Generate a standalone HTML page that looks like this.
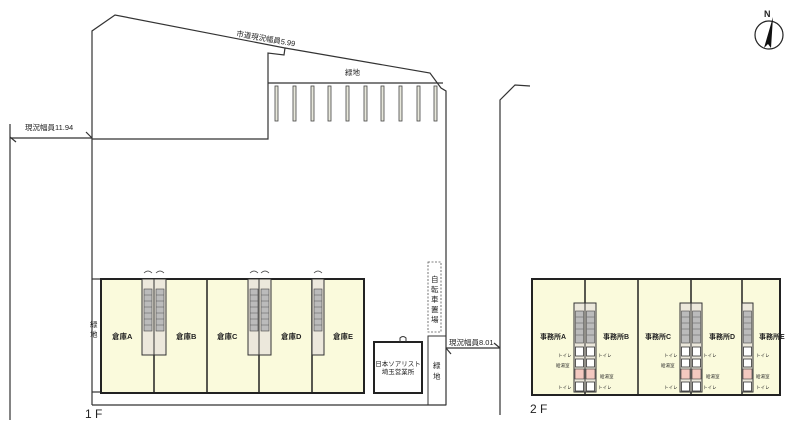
<!DOCTYPE html>
<html><head><meta charset="utf-8"><style>
html,body{margin:0;padding:0;background:#fff;width:800px;height:434px;overflow:hidden}
svg{display:block}
text{font-family:"Liberation Sans","Noto Sans CJK JP",sans-serif;fill:#222}
</style></head><body>
<svg width="800" height="434" viewBox="0 0 800 434" xmlns="http://www.w3.org/2000/svg">
<defs>
<g id="st1">
 <rect x="0" y="0" width="12" height="76" fill="#ece8dc" stroke="#333" stroke-width="1"/>
 <rect x="2" y="10" width="8" height="42" fill="#bbb" stroke="#444" stroke-width="0.6"/>
 <line x1="2" y1="16" x2="10" y2="16" stroke="#555" stroke-width="0.5"/>
 <line x1="2" y1="22" x2="10" y2="22" stroke="#555" stroke-width="0.5"/>
 <line x1="2" y1="28" x2="10" y2="28" stroke="#555" stroke-width="0.5"/>
 <line x1="2" y1="34" x2="10" y2="34" stroke="#555" stroke-width="0.5"/>
 <line x1="2" y1="40" x2="10" y2="40" stroke="#555" stroke-width="0.5"/>
 <line x1="2" y1="46" x2="10" y2="46" stroke="#555" stroke-width="0.5"/>
 <path d="M2,-6 q4,-4 8,0" fill="none" stroke="#444" stroke-width="0.8"/>
</g>
<g id="st2">
 <rect x="0" y="0" width="11" height="89" fill="#ece8dc" stroke="#333" stroke-width="1"/>
 <rect x="1.5" y="8" width="8" height="32" fill="#bbb" stroke="#444" stroke-width="0.6"/>
 <line x1="1.5" y1="14" x2="9.5" y2="14" stroke="#555" stroke-width="0.5"/>
 <line x1="1.5" y1="20" x2="9.5" y2="20" stroke="#555" stroke-width="0.5"/>
 <line x1="1.5" y1="26" x2="9.5" y2="26" stroke="#555" stroke-width="0.5"/>
 <line x1="1.5" y1="32" x2="9.5" y2="32" stroke="#555" stroke-width="0.5"/>
 <rect x="1.5" y="44" width="8" height="9" fill="#fff" stroke="#333" stroke-width="0.8"/>
 <rect x="1.5" y="56" width="8" height="8" fill="#fff" stroke="#333" stroke-width="0.8"/>
 <rect x="1" y="66" width="9" height="10" fill="#f3c9c0" stroke="#333" stroke-width="0.6"/>
 <rect x="1.5" y="79" width="8" height="9" fill="#fff" stroke="#333" stroke-width="0.8"/>
</g>
</defs>
<g fill="none" stroke="#333" stroke-width="1.2">
 <polyline points="92,405 92,31 115,15 285,48 284,55 268,53 268,139 92,139"/>
 <polyline points="285,48 430,73 441,88 446,91 446,405"/>
 <line x1="268" y1="83" x2="443" y2="83"/>
 <line x1="92" y1="405" x2="446" y2="405"/>
 <line x1="10" y1="138" x2="92" y2="138"/>
 <line x1="10" y1="124" x2="10" y2="420"/>
 <line x1="10" y1="137" x2="16" y2="142"/>
 <line x1="86" y1="132" x2="92" y2="138"/>
 <polyline points="500,415 500,100 515,85 530,86"/>
 <line x1="446" y1="348" x2="500" y2="348"/>
 <line x1="446" y1="348" x2="451" y2="354"/>
 <line x1="494" y1="343" x2="500" y2="348"/>
 <line x1="92" y1="279" x2="100" y2="279"/>
 <line x1="92" y1="392" x2="100" y2="392"/>
</g>
<g fill="#e8e8dc" stroke="#444" stroke-width="0.8">
 <rect x="275" y="86" width="3" height="35"/><rect x="293" y="86" width="3" height="35"/>
 <rect x="311" y="86" width="3" height="35"/><rect x="328" y="86" width="3" height="35"/>
 <rect x="346" y="86" width="3" height="35"/><rect x="364" y="86" width="3" height="35"/>
 <rect x="381" y="86" width="3" height="35"/><rect x="399" y="86" width="3" height="35"/>
 <rect x="417" y="86" width="3" height="35"/><rect x="434" y="86" width="3" height="35"/>
</g>
<text x="236" y="36" font-size="7.5" transform="rotate(10 236 36)">市道現況幅員5.99</text>
<text x="345" y="75" font-size="7.5">緑地</text>
<text x="25" y="130" font-size="7.5">現況幅員11.94</text>
<rect x="101" y="279" width="263" height="114" fill="#fafadc" stroke="#222" stroke-width="2"/>
<g stroke="#222" stroke-width="1.5">
 <line x1="154" y1="279" x2="154" y2="393"/><line x1="207" y1="279" x2="207" y2="393"/>
 <line x1="259" y1="279" x2="259" y2="393"/><line x1="312" y1="279" x2="312" y2="393"/>
</g>
<use href="#st1" x="142" y="279"/><use href="#st1" x="154" y="279"/>
<use href="#st1" x="248" y="279"/><use href="#st1" x="259" y="279"/>
<use href="#st1" x="312" y="279"/>
<g font-size="7.5" font-weight="bold">
 <text x="112" y="339">倉庫A</text><text x="176" y="339">倉庫B</text>
 <text x="217" y="339">倉庫C</text><text x="281" y="339">倉庫D</text><text x="333" y="339">倉庫E</text>
</g>
<text x="90" y="327" font-size="7.5">緑</text><text x="90" y="337" font-size="7.5">地</text>
<text x="85" y="418" font-size="12">1 F</text>
<rect x="428" y="262" width="13" height="70" fill="none" stroke="#555" stroke-width="0.8" stroke-dasharray="2,1.5"/>
<g font-size="7.5"><text x="431" y="282">自</text><text x="431" y="292">転</text><text x="431" y="302">車</text><text x="431" y="312">置</text><text x="431" y="322">場</text></g>
<rect x="428" y="336" width="18" height="69" fill="none" stroke="#333" stroke-width="1"/>
<text x="433" y="368" font-size="7.5">緑</text><text x="433" y="379" font-size="7.5">地</text>
<rect x="374" y="342" width="48" height="51" fill="none" stroke="#222" stroke-width="2"/>
<path d="M400,342 v-4 q3,-3 6,0 v4" fill="none" stroke="#333"/>
<text x="398" y="366" font-size="6.5" text-anchor="middle">日本ソアリスト</text>
<text x="398" y="374" font-size="6.5" text-anchor="middle">埼玉営業所</text>
<text x="449" y="345" font-size="7.5">現況幅員8.01</text>
<rect x="532" y="279" width="248" height="116" fill="#fafadc" stroke="#222" stroke-width="2"/>
<g stroke="#222" stroke-width="1.5">
 <line x1="585" y1="279" x2="585" y2="395"/><line x1="638" y1="279" x2="638" y2="395"/>
 <line x1="691" y1="279" x2="691" y2="395"/><line x1="742" y1="279" x2="742" y2="395"/>
</g>
<use href="#st2" x="574" y="303"/><use href="#st2" x="585" y="303"/>
<use href="#st2" x="680" y="303"/><use href="#st2" x="691" y="303"/>
<use href="#st2" x="742" y="303"/>
<g font-size="7" font-weight="bold">
 <text x="540" y="339">事務所A</text><text x="603" y="339">事務所B</text>
 <text x="645" y="339">事務所C</text><text x="709" y="339">事務所D</text><text x="759" y="339">事務所E</text>
</g>
<g font-size="4.5">
 <text x="558" y="357">トイレ</text><text x="598" y="357">トイレ</text><text x="664" y="357">トイレ</text><text x="703" y="357">トイレ</text><text x="756" y="357">トイレ</text>
 <text x="556" y="367">給湯室</text><text x="661" y="367">給湯室</text>
 <text x="600" y="378">給湯室</text><text x="706" y="378">給湯室</text><text x="756" y="378">給湯室</text>
 <text x="558" y="389">トイレ</text><text x="598" y="389">トイレ</text><text x="664" y="389">トイレ</text><text x="703" y="389">トイレ</text><text x="756" y="389">トイレ</text>
</g>
<text x="530" y="413" font-size="12">2 F</text>
<circle cx="769" cy="35" r="14" fill="none" stroke="#222" stroke-width="1.2"/>
<path d="M773,17 L764,48 L768,44 L771,48 Z" fill="#111"/>
<text x="764" y="17" font-size="9" font-weight="bold">N</text>
</svg>
</body></html>
